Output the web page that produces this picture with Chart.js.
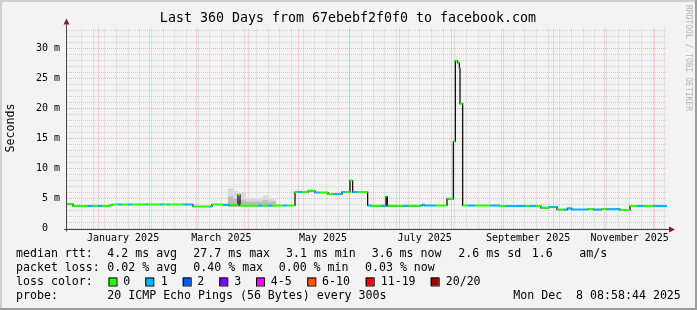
<!DOCTYPE html>
<html><head><meta charset="utf-8">
<script src="https://cdn.jsdelivr.net/npm/chart.js@4/dist/chart.umd.min.js"></script>
<style>html,body{margin:0;padding:0;background:#f3f3f3;}canvas{display:block;}</style>
</head><body>
<canvas id="c" width="697" height="310"></canvas>
<script>
// ---------- data ----------
const chartTitle = 'Last 360 Days from 67ebebf2f0f0 to facebook.com';
const yAxisTitle = 'Seconds';
const watermark = 'RRDTOOL / TOBI OETIKER';
const spanDays = 360;
const startUTC = Date.UTC(2024, 11, 13, 8, 58, 44);
const monthLabels = ['January 2025', 'March 2025', 'May 2025', 'July 2025', 'September 2025', 'November 2025'];
const monthLabelDates = [[2025,0,16],[2025,2,16],[2025,4,16],[2025,6,16],[2025,8,16],[2025,10,16]];
const yTickValues = [0,1,2,3,4,5,6,7,8,9,10,11,12,13,14,15,16,17,18,19,20,21,22,23,24,25,26,27,28,29,30,31,32,33];

// median rtt steps: start day, value (ms), lost pings out of 20
const stepDay = [0,3.6,12.6,15.6,18.6,21,25.2,27,30.6,33,36.6,39,46.8,48.6,55.8,57.6,60,61.8,69.6,75.6,85.8,87,93.6,97.8,102.6,103.8,114.6,117,120.6,123,129.6,132,136.8,138,141,144.6,148.8,151.8,156.6,159.6,165,166.8,169.8,171.4,174,180.4,183,188.4,191.4,192.2,201.6,204.6,211.8,213.3,214.2,221.4,228,228.9,231.8,233,234.4,235.4,235.8,237.4,240.6,244.8,253.8,259.8,262.8,275.4,277.2,281.4,284.4,289.2,294,298.6,300.4,302.8,312.8,315.8,320.8,323.8,328.8,331.8,337.8,342,345.6,352];
const stepRtt = [4.05,3.73,3.73,3.73,3.73,3.73,3.85,4.0,4.0,4.0,4.0,4.0,4.0,4.0,4.0,4.0,4.0,4.0,4.0,3.67,3.67,4.0,3.95,3.95,5.6,3.83,3.83,3.83,3.83,3.83,3.83,3.83,6.07,6.07,6.07,6.28,6.0,6.0,5.73,5.73,6.07,6.07,8.0,6.07,6.07,3.83,3.78,3.78,5.33,3.78,3.78,3.78,3.83,4.0,3.83,3.83,4.95,4.95,14.5,27.95,27.6,26.7,20.8,3.83,3.83,3.83,3.83,3.73,3.73,3.73,3.73,3.73,3.45,3.6,3.15,3.15,3.35,3.17,3.25,3.15,3.25,3.2,3.25,3.07,3.73,3.73,3.73,3.73];
const stepLoss = [0,0,1,0,1,0,0,0,1,0,1,0,1,0,1,0,1,0,1,0,1,0,1,0,0,0,1,0,1,0,1,0,0,1,0,0,1,0,0,1,1,0,0,1,0,1,0,1,0,0,1,0,1,0,1,0,1,0,0,0,0,1,0,0,1,0,1,0,1,0,1,0,0,1,0,1,1,1,0,1,0,1,1,0,0,1,0,1];

// smoke (ping spread) around March
const smokeDay = [96.6,99.6,102.6,107.4,117.6,120.6,125.4];
const smokeLow = [3.6,3.6,3.6,3.6,3.6,3.6,3.6];
const smokeMid = [5.3,5.0,4.8,4.5,4.7,4.5,4.5];
const smokeHigh = [6.7,6.3,6.0,5.1,5.5,5.1,5.1];

// legend
const lossLabels = ['0','1','2','3','4-5','6-10','11-19','20/20'];
const lossColors = ['#26ff00','#00b8ff','#0059ff','#7e00ff','#ff00ff','#ff5500','#ff0000','#a10000'];
const lossIndexOf = n => n <= 3 ? n : n <= 5 ? 4 : n <= 10 ? 5 : n <= 19 ? 6 : 7;
const legendRtt = ['median rtt:', '4.2 ms avg', '27.7 ms max', '3.1 ms min', '3.6 ms now', '2.6 ms sd', '1.6', 'am/s'];
const legendLoss = ['packet loss:', '0.02 % avg', '0.40 % max', '0.00 % min', '0.03 % now'];
const legendLossColor = 'loss color:';
const legendProbe = ['probe:', '20 ICMP Echo Pings (56 Bytes) every 300s', 'Mon Dec  8 08:58:44 2025'];

// ---------- derived ----------
const DAY = 86400000;
const dayOf = (y, m, d) => (Date.UTC(y, m, d) - startUTC) / DAY;
const xTicks = [];
for (let d = dayOf(2024, 11, 22); d < spanDays; d += 7) xTicks.push({value: d, kind: 'minor'});
for (let m = 0; m < 12; m++) xTicks.push({value: dayOf(2025, m, 1), kind: 'major'});
monthLabelDates.forEach((md, i) => xTicks.push({value: dayOf(md[0], md[1], md[2]), kind: 'label', text: monthLabels[i]}));
xTicks.sort((a, b) => a.value - b.value);

const medianColored = [];
const medianBlack = [];
for (let i = 0; i < stepDay.length; i++) {
  const end = i + 1 < stepDay.length ? stepDay[i + 1] : spanDays;
  medianColored.push({x: stepDay[i], y: stepRtt[i], loss: stepLoss[i]});
  medianColored.push({x: end, y: stepRtt[i], loss: stepLoss[i]});
  medianColored.push({x: end, y: null});
  medianBlack.push({x: stepDay[i], y: stepRtt[i]});
}
medianBlack.push({x: spanDays, y: stepRtt[stepRtt.length - 1]});
const ms = (arr) => arr.map((v, i) => ({x: smokeDay[i], y: v}));

const MONO = '"DejaVu Sans Mono", monospace';
const minorGrid = 'rgba(150,150,150,0.38)';
const majorGrid = 'rgba(235,80,80,0.42)';

const deco = {
  id: 'deco',
  beforeDraw(chart) {
    const c = chart.ctx;
    c.save();
    c.fillStyle = '#f3f3f3';
    c.fillRect(0, 0, 697, 310);
    c.restore();
  },
  afterDraw(chart) {
    const c = chart.ctx;
    const a = chart.chartArea;
    c.save();
    // frame
    c.fillStyle = '#cfcfcf';
    c.fillRect(0, 0, 697, 2);
    c.fillRect(0, 0, 2, 310);
    c.fillStyle = '#9c9c9c';
    c.fillRect(0, 308, 697, 2);
    c.fillRect(695, 0, 2, 310);
    // axes
    c.strokeStyle = '#444';
    c.lineWidth = 1;
    c.beginPath();
    c.moveTo(Math.round(a.left) - 0.5, a.bottom + 3);
    c.lineTo(Math.round(a.left) - 0.5, a.top - 4);
    c.moveTo(a.left - 3, Math.round(a.bottom) + 0.5);
    c.lineTo(a.right + 3, Math.round(a.bottom) + 0.5);
    c.stroke();
    c.fillStyle = '#8b1a1a';
    c.beginPath();
    const ax = Math.round(a.left) - 0.5;
    c.moveTo(ax - 3, a.top - 4); c.lineTo(ax + 3, a.top - 4); c.lineTo(ax, a.top - 10); c.closePath(); c.fill();
    const ay = Math.round(a.bottom) + 0.5;
    c.beginPath();
    c.moveTo(a.right + 2, ay - 3); c.lineTo(a.right + 2, ay + 3); c.lineTo(a.right + 8, ay); c.closePath(); c.fill();
    // title
    c.fillStyle = '#000';
    c.font = '13.3px ' + MONO;
    c.textAlign = 'center';
    c.textBaseline = 'middle';
    c.fillText(chartTitle, 348, 18.5);
    // y title
    c.save();
    c.translate(11, 128);
    c.rotate(-Math.PI / 2);
    c.font = '11.6px ' + MONO;
    c.fillText(yAxisTitle, 0, 0);
    c.restore();
    // watermark
    c.save();
    c.translate(688.5, 5);
    c.rotate(Math.PI / 2);
    c.font = '8px ' + MONO;
    c.fillStyle = '#b4b4b4';
    c.textAlign = 'left';
    c.fillText(watermark, 0, 0);
    c.restore();
    // legend
    c.font = '11.6px ' + MONO;
    c.textAlign = 'left';
    c.fillStyle = '#000';
    const rttX = [16, 107.3, 193.3, 286, 371.7, 458.3, 531.7, 579.3];
    legendRtt.forEach((t, i) => c.fillText(t, rttX[i], 254.3));
    const lossX = [16, 107.3, 193.3, 278.7, 365];
    legendLoss.forEach((t, i) => c.fillText(t, lossX[i], 268.3));
    c.fillText(legendLossColor, 16, 282);
    const boxX = [108.5, 145.3, 182.7, 219.3, 256, 307.3, 365.7, 430.7];
    const labX = [123.3, 160.7, 197.3, 234.3, 270.7, 322, 380.7, 445.7];
    lossLabels.forEach((t, i) => {
      c.fillStyle = lossColors[i];
      c.fillRect(boxX[i], 277.5, 8, 8);
      c.strokeStyle = '#000';
      c.strokeRect(boxX[i] + 0.5, 278, 8, 8);
      c.fillStyle = '#000';
      c.fillText(t, labX[i], 282);
    });
    const probeX = [16, 107.3, 513.3];
    legendProbe.forEach((t, i) => c.fillText(t, probeX[i], 296.3));
    c.restore();
  }
};

new Chart(document.getElementById('c'), {
  type: 'line',
  data: {
    datasets: [
      {
        data: medianColored, borderWidth: 2, pointRadius: 0, spanGaps: false, borderCapStyle: 'butt',
        segment: { borderColor: ctx => lossColors[lossIndexOf(ctx.chart.data.datasets[0].data[ctx.p0DataIndex].loss || 0)] },
        borderColor: lossColors[0]
      },
      { data: medianBlack, stepped: true, borderWidth: 1.2, borderColor: '#000', pointRadius: 0 },
      { data: ms(smokeLow), stepped: true, borderWidth: 0, pointRadius: 0, borderColor: 'rgba(0,0,0,0)' },
      { data: ms(smokeMid), stepped: true, borderWidth: 0, pointRadius: 0, borderColor: 'rgba(0,0,0,0)', fill: '-1', backgroundColor: '#bcbcbc' },
      { data: ms(smokeLow), stepped: true, borderWidth: 0, pointRadius: 0, borderColor: 'rgba(0,0,0,0)' },
      { data: ms(smokeHigh), stepped: true, borderWidth: 0, pointRadius: 0, borderColor: 'rgba(0,0,0,0)', fill: '-1', backgroundColor: '#dadada' }
    ]
  },
  plugins: [deco],
  options: {
    responsive: false,
    animation: false,
    events: [],
    layout: { padding: { top: 28.5, left: 0, right: 30, bottom: 0 } },
    plugins: { legend: { display: false }, tooltip: { enabled: false }, title: { display: false } },
    scales: {
      x: {
        type: 'linear', min: 0, max: spanDays,
        afterFit: s => { s.height = 81.5; },
        afterBuildTicks: s => { s.ticks = xTicks.map(t => ({value: t.value, kind: t.kind, text: t.text})); },
        ticks: {
          autoSkip: false, maxRotation: 0, minRotation: 0, padding: 4,
          font: { family: MONO, size: 10 }, color: '#000',
          callback: function (v, i) { const t = xTicks[i]; return t && t.kind === 'label' ? t.text : ''; }
        },
        grid: {
          drawTicks: false,
          color: ctx => { const t = xTicks[ctx.index]; return !t ? 'rgba(0,0,0,0)' : t.kind === 'major' ? majorGrid : t.kind === 'minor' ? minorGrid : 'rgba(0,0,0,0)'; }
        },
        border: { display: false, dash: [1, 1] }
      },
      y: {
        type: 'linear', min: 0, max: 200 / 6,
        afterFit: s => { s.width = 67; },
        afterBuildTicks: s => { s.ticks = yTickValues.map(v => ({value: v})); },
        ticks: {
          autoSkip: false, padding: 7,
          font: { family: MONO, size: 10 }, color: '#000',
          callback: v => v % 5 === 0 ? (v === 0 ? '0  ' : v + ' m') : ''
        },
        grid: {
          drawTicks: false,
          color: ctx => ctx.tick && ctx.tick.value % 5 === 0 ? majorGrid : minorGrid
        },
        border: { display: false, dash: [1, 1] }
      }
    }
  }
});
</script>
</body></html>
